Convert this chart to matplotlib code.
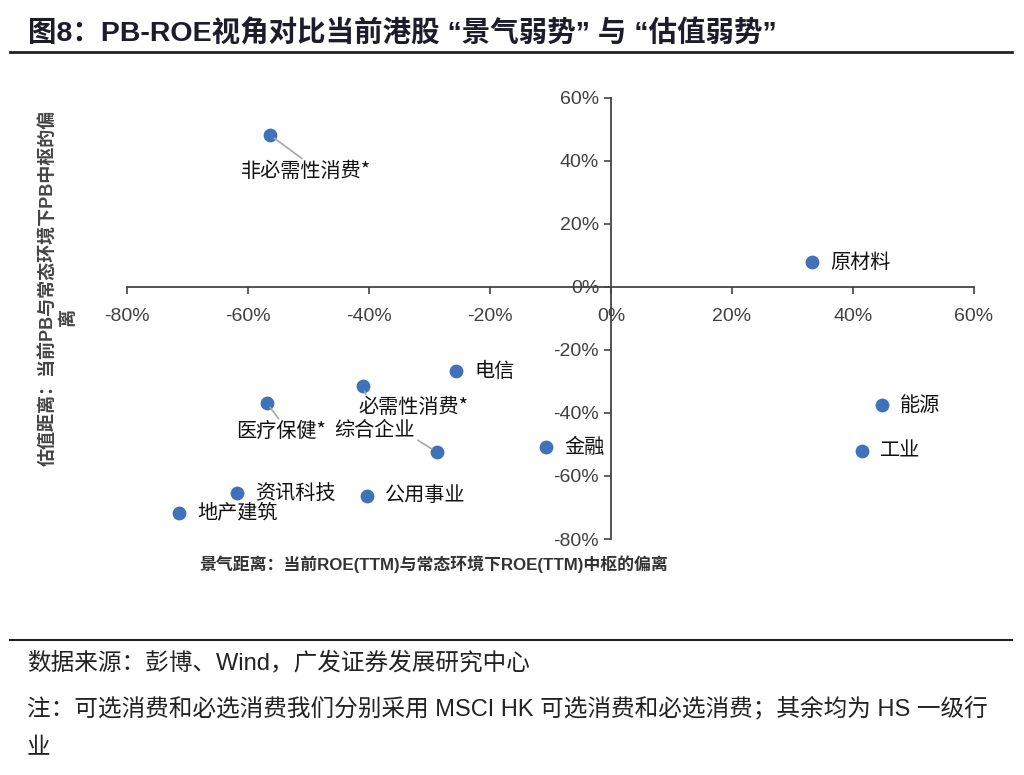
import matplotlib.pyplot as plt
from matplotlib.lines import Line2D
from matplotlib.ticker import FuncFormatter

plt.rcParams['font.family'] = ['Liberation Sans', 'Noto Sans CJK SC', 'DejaVu Sans']

# Data: 景气距离 (x) and 估值距离 (y), in %
sectors = ["非必需性消费*", "原材料", "电信", "必需性消费*", "医疗保健*", "综合企业",
           "金融", "能源", "工业", "资讯科技", "地产建筑", "公用事业"]
roe_dev = [-56.4, 33.2, -25.6, -41.0, -56.9, -28.8, -10.7, 44.8, 41.5, -61.8, -71.4, -40.3]
pb_dev = [48.3, 7.9, -26.7, -31.4, -36.8, -52.4, -50.8, -37.5, -52.1, -65.4, -71.7, -66.3]

x_ticks = [-80, -60, -40, -20, 0, 20, 40, 60]
y_ticks = [-80, -60, -40, -20, 0, 20, 40, 60]

# label placement (offset in pixels, alignment, leader line start)
label_style = {
    "非必需性消费*": ((36, -37), "center", (0.5, 1.0)),
    "必需性消费*": ((50, -22), "center", (0.08, 1.0)),
    "医疗保健*": ((14, -29), "center", (0.5, 1.0)),
    "综合企业": ((-62, 22), "center", (1.0, 0.1)),
}

fig = plt.figure(figsize=(10.24, 7.75), dpi=100)
ax = fig.add_axes([127 / 1024, 1 - 539 / 775, (974 - 127) / 1024, (539 - 98) / 775])

ax.scatter(roe_dev, pb_dev, s=80, color="#3f72b9", zorder=3)

for name, x, y in zip(sectors, roe_dev, pb_dev):
    if name in label_style:
        off, ha, rel = label_style[name]
        ax.annotate(name, (x, y), xytext=off, textcoords="offset pixels",
                    ha=ha, va="center", fontsize=14.5, color="#111111",
                    family=["Noto Sans CJK SC", "DejaVu Sans"],
                    arrowprops=dict(arrowstyle="-", color="#a8a8a8", lw=1.2,
                                    relpos=rel, shrinkA=0, shrinkB=4))
    else:
        ax.annotate(name, (x, y), xytext=(18, 0), textcoords="offset pixels",
                    ha="left", va="center", fontsize=14.5, color="#111111",
                    family=["Noto Sans CJK SC", "DejaVu Sans"])

ax.set_xlim(-80, 60)
ax.set_ylim(-80, 60)
ax.set_xticks(x_ticks)
ax.set_yticks(y_ticks)
pct = FuncFormatter(lambda v, p: f"{v:.0f}%")
ax.xaxis.set_major_formatter(pct)
ax.yaxis.set_major_formatter(pct)

for side in ["top", "right"]:
    ax.spines[side].set_visible(False)
for side in ["left", "bottom"]:
    ax.spines[side].set_position(("data", 0))
    ax.spines[side].set_color("#444444")
    ax.spines[side].set_linewidth(1.3)
ax.tick_params(direction="out", length=5, width=1.2, color="#444444",
               labelsize=14, labelcolor="#404040")
ax.tick_params(axis="x", pad=10)
ax.patch.set_alpha(0)

# axis titles
fig.text(434 / 1024, 1 - 564 / 775, "景气距离：当前ROE(TTM)与常态环境下ROE(TTM)中枢的偏离",
         ha="center", va="center", fontsize=12.2, fontweight="bold", color="#333333",
         family=["Liberation Sans", "Noto Sans CJK SC"])
fig.text(48 / 1024, 1 - 288 / 775, "估值距离：当前PB与常态环境下PB中枢的偏",
         ha="center", va="center", rotation=90, fontsize=13, fontweight="bold",
         color="#444444", family=["Liberation Sans", "Noto Sans CJK SC"])
fig.text(67 / 1024, 1 - 317 / 775, "离", ha="center", va="center", rotation=90,
         fontsize=13, fontweight="bold", color="#444444", family=["Noto Sans CJK SC"])

# title and rules
fig.text(28 / 1024, 1 - 33 / 775, "图8：PB-ROE视角对比当前港股 “景气弱势” 与 “估值弱势”",
         ha="left", va="center", fontsize=20.5, fontweight="bold", color="#1c1c2a",
         family=["Liberation Sans", "Noto Sans CJK SC"])
fig.add_artist(Line2D([10 / 1024, 1012 / 1024], [1 - 52 / 775, 1 - 52 / 775],
                      color="#222222", lw=2))
fig.add_artist(Line2D([10 / 1024, 1012 / 1024], [1 - 640 / 775, 1 - 640 / 775],
                      color="#222222", lw=1.5))

# footer
foot_font = ["Liberation Sans", "Noto Sans CJK SC"]
fig.text(27 / 1024, 1 - 664 / 775, "数据来源：彭博、Wind，广发证券发展研究中心",
         ha="left", va="center", fontsize=17, color="#222222", family=foot_font)
fig.text(27 / 1024, 1 - 709 / 775,
         "注：可选消费和必选消费我们分别采用 MSCI HK 可选消费和必选消费；其余均为 HS 一级行",
         ha="left", va="center", fontsize=17, color="#222222", family=foot_font)
fig.text(27 / 1024, 1 - 748 / 775, "业", ha="left", va="center", fontsize=17,
         color="#222222", family=foot_font)

fig.savefig("out.png", dpi=100)
